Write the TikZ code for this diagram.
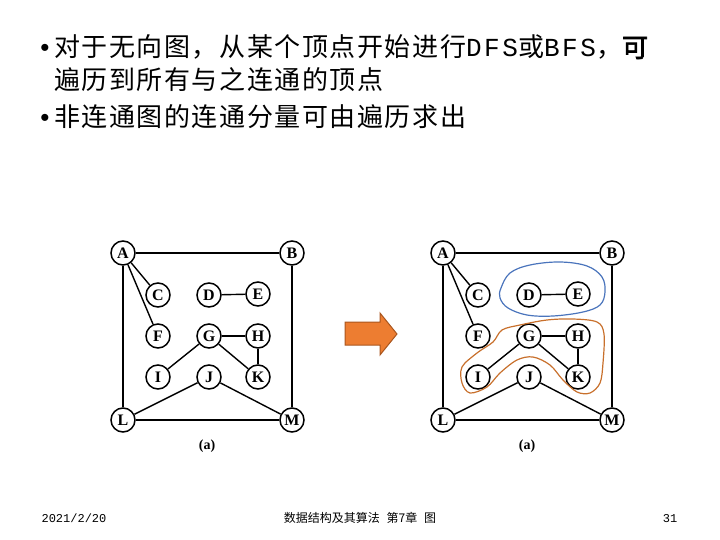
\documentclass[tikz,border=0pt]{standalone}
\usepackage{fontspec}
\setmainfont{Noto Sans CJK SC}
\newfontfamily\cjk[LetterSpace=6]{Noto Sans CJK SC}
\newfontfamily\cjkbold[FakeBold=2.5,LetterSpace=6]{Noto Sans CJK SC}
\newfontfamily\latmono[LetterSpace=10]{Liberation Mono}
\newfontfamily\footmono{Liberation Mono}
\newfontfamily\bulfont{Liberation Sans}
\newfontfamily\vfont{Liberation Serif}
\usetikzlibrary{positioning,arrows.meta}
\definecolor{loopblue}{HTML}{4A74BC}
\definecolor{looporange}{HTML}{C8702C}
\definecolor{arrowfill}{HTML}{ED7D31}
\definecolor{arrowline}{HTML}{A9561E}
\tikzset{
  vtx/.style={circle, draw, fill=white, line width=1.5pt, minimum size=24pt, inner sep=0pt,
    font=\vfont\bfseries\fontsize{16}{16}\selectfont},
  edge/.style={line width=1.4pt},
  bigtext/.style={anchor=base west, inner sep=0pt, font=\cjk\fontsize{26}{30}\selectfont},
  bul/.style={anchor=base, inner sep=0pt, font=\bulfont\fontsize{26}{30}\selectfont},
  foot/.style={anchor=base, inner sep=0pt, font=\fontsize{12}{14}\selectfont},
  hand/.style={line width=1.2pt, line join=round},
}

\begin{document}
\begin{tikzpicture}[x=1pt,y=-1pt]
\useasboundingbox (0,0) rectangle (720,540);

% bullet text
\node[bul] (dot1) at (45,57) {•};
\node[bigtext] (line1) at (54,57) {对于无向图，从某个顶点开始进行{\latmono DFS}或{\latmono BFS}，{\cjkbold 可}};
\node[bigtext] (line2) at (54,90) {遍历到所有与之连通的顶点};
\node[bul] (dot3) at (45,127) {•};
\node[bigtext] (line3) at (54,127) {非连通图的连通分量可由遍历求出};

% the graph, twice
\foreach \g/\dx in {l/0,r/320}{
  \foreach \v/\x/\y in {A/123/253, B/292/253, C/158/295, D/209/295, E/258/294,
      F/158/336, G/209/336, H/258/336, I/158/377, J/209/377, K/258/377,
      L/123/420, M/292/420}
    \node[vtx] (\g\v) at (\x+\dx,\y) {\v};
  \foreach \a/\b in {A/B, A/C, A/F, A/L, B/M, D/E, G/H, G/I, G/K, H/K, J/L, J/M, L/M}
    \draw[edge] (\g\a) -- (\g\b);
  \node[font=\vfont\bfseries\fontsize{14}{14}\selectfont] (\g cap) at (207+\dx,446) {(a)};
}

% components
\draw[hand, loopblue] plot[smooth cycle, tension=0.6] coordinates {
  (501,288) (510,273) (530,265) (560,262) (587,266) (602,277)
  (605,292) (600,305) (583,312) (553,316) (527,315) (508,308) (500,298)};
\draw[hand, looporange] plot[smooth cycle, tension=0.55] coordinates {
  (502,330) (520,325) (547,320) (573,319) (597,322) (604,334)
  (603,363) (600,383) (590,393) (577,392) (563,380) (550,365)
  (533,357) (517,360) (500,373) (487,387) (470,393) (462,383)
  (462,367) (477,353) (493,342)};

% block arrow
\draw[arrowline, fill=arrowfill, line width=1pt, line join=miter]
  (345,322) -- (380,322) -- (380,313) -- (397,334) -- (380,355) -- (380,345) -- (345,345) -- cycle;

% footer
\node[foot, font=\footmono\fontsize{12}{14}\selectfont] (date) at (74,522) {2021/2/20};
\node[foot] (title) at (360,522) {数据结构及其算法\hspace{4pt} 第7章\hspace{4pt} 图};
\node[foot, font=\footmono\fontsize{12}{14}\selectfont] (page) at (670,522) {31};
\end{tikzpicture}
\end{document}
